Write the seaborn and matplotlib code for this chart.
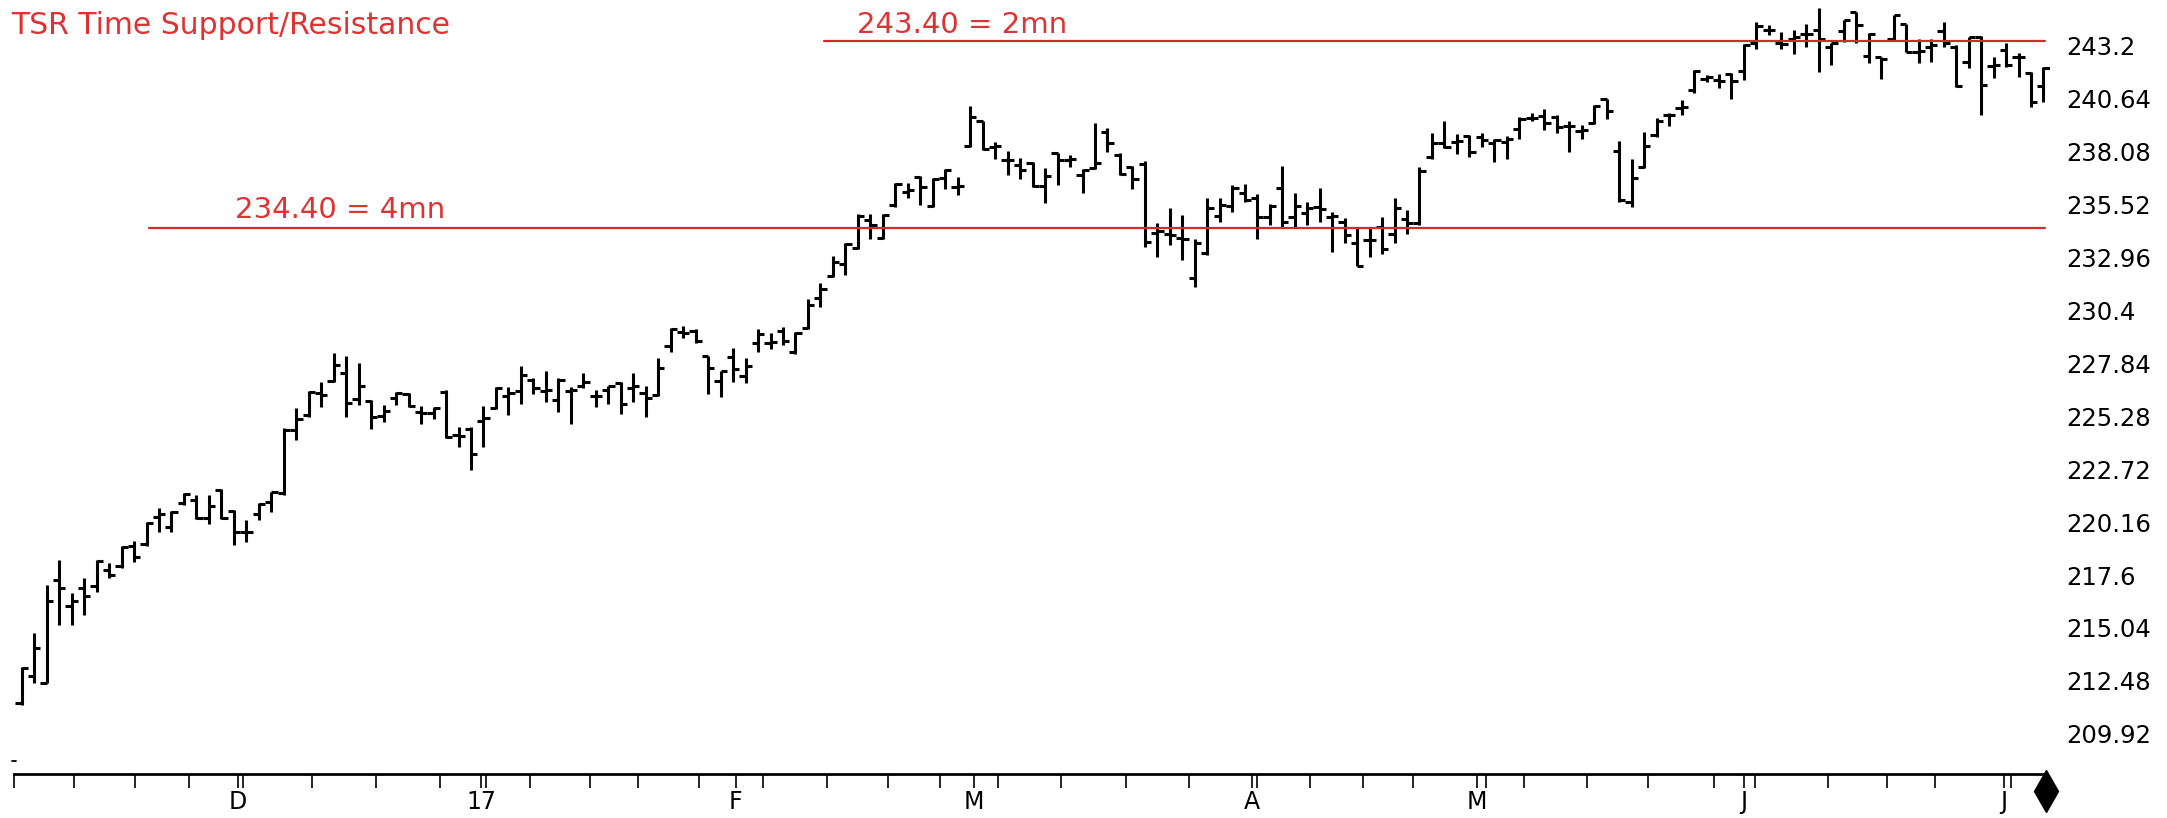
import matplotlib
matplotlib.use("Agg")
import matplotlib.pyplot as plt
import numpy as np
import pandas as pd
import seaborn as sns

# ---------------- data ----------------
opens = [211.40, 212.72, 212.40, 217.36, 216.10, 216.96, 217.07, 217.84, 218.04, 219.00,
         219.10, 220.42, 219.94, 221.07, 221.23, 220.34, 221.71, 220.70, 219.67, 220.55,
         221.15, 221.55, 224.61, 225.34, 226.39, 227.00, 227.35, 226.10, 226.03, 225.29,
         226.15, 226.36, 225.50, 225.42, 226.47, 224.37, 224.68, 225.05, 225.66, 226.27,
         226.50, 227.03, 226.52, 226.05, 226.50, 226.74, 226.26, 226.55, 226.90, 226.63,
         226.39, 226.31, 228.68, 229.37, 229.42, 228.19, 227.00, 228.16, 227.23, 228.80,
         228.84, 229.42, 228.40, 229.53, 230.98, 232.06, 232.64, 233.39, 234.76, 233.88,
         235.49, 236.13, 236.86, 235.44, 236.78, 236.38, 238.35, 239.53, 238.32, 237.67,
         237.43, 237.51, 236.41, 238.00, 237.67, 236.95, 237.27, 239.04, 237.90, 237.32,
         237.48, 234.13, 234.09, 233.88, 231.95, 233.19, 234.96, 235.45, 236.06, 235.82,
         234.93, 236.30, 234.93, 235.09, 235.38, 234.93, 234.69, 233.64, 233.80, 234.45,
         234.09, 234.80, 234.61, 237.80, 238.48, 238.56, 238.83, 238.77, 238.48, 238.56,
         239.15, 239.69, 239.80, 239.76, 239.31, 239.08, 239.44, 240.60, 238.12, 235.65,
         237.35, 238.88, 239.84, 240.16, 241.05, 241.57, 241.54, 241.83, 241.99, 243.34,
         243.95, 243.31, 243.50, 243.76, 243.95, 243.15, 243.92, 244.84, 242.70, 242.63,
         243.50, 244.24, 242.91, 243.15, 243.92, 243.15, 242.42, 243.63, 242.21, 243.00,
         242.63, 241.86, 241.24]

highs = [213.17, 214.78, 217.12, 218.33, 216.72, 217.44, 218.33, 218.17, 219.00, 219.26,
         220.18, 220.83, 220.71, 221.55, 221.47, 221.47, 221.75, 220.75, 220.26, 221.07,
         221.63, 224.70, 225.66, 226.52, 226.95, 228.32, 228.19, 227.84, 226.06, 225.82,
         226.47, 226.39, 225.77, 225.71, 226.55, 224.75, 224.75, 225.77, 226.70, 226.70,
         227.71, 227.11, 227.48, 227.11, 226.70, 227.35, 226.55, 226.74, 226.95, 227.35,
         226.74, 228.08, 229.53, 229.64, 229.48, 228.19, 227.48, 228.56, 228.08, 229.48,
         229.29, 229.61, 229.37, 230.95, 231.70, 233.02, 233.67, 235.05, 235.05, 235.05,
         236.57, 236.54, 236.89, 236.78, 237.21, 236.83, 240.28, 239.57, 238.56, 238.12,
         237.75, 237.59, 237.27, 238.03, 237.90, 237.22, 239.44, 239.20, 237.99, 237.38,
         237.64, 234.61, 235.33, 235.01, 233.84, 235.82, 235.82, 236.46, 236.51, 236.03,
         235.54, 237.38, 236.06, 235.66, 236.30, 235.17, 234.85, 234.45, 234.45, 234.93,
         235.82, 235.25, 237.35, 238.96, 239.57, 238.93, 238.88, 238.96, 238.67, 238.83,
         239.73, 239.93, 240.12, 239.84, 239.57, 239.36, 240.32, 240.62, 238.60, 237.70,
         239.04, 239.68, 239.92, 240.57, 242.00, 241.78, 241.83, 241.86, 243.30, 244.36,
         244.20, 243.87, 243.95, 244.24, 245.00, 243.34, 244.44, 244.84, 243.82, 242.63,
         244.68, 244.24, 243.50, 243.50, 244.36, 243.23, 243.63, 243.66, 242.67, 243.31,
         242.83, 241.94, 242.18]

lows = [211.32, 212.36, 212.36, 215.18, 215.18, 215.67, 216.80, 217.44, 217.92, 218.25,
        219.00, 219.70, 219.70, 220.99, 220.29, 220.07, 220.29, 219.05, 219.21, 220.26,
        220.67, 221.47, 224.13, 225.26, 225.74, 226.95, 225.26, 225.82, 224.65, 225.02,
        225.82, 225.74, 224.90, 225.13, 224.21, 223.81, 222.70, 223.81, 225.61, 225.36,
        225.88, 226.36, 225.98, 225.50, 224.90, 226.63, 225.74, 225.87, 225.39, 225.98,
        225.26, 226.26, 228.40, 229.05, 228.84, 226.35, 226.23, 226.95, 226.87, 228.40,
        228.51, 228.72, 228.29, 229.48, 230.57, 232.02, 232.10, 233.35, 233.83, 233.83,
        235.41, 235.81, 235.49, 235.41, 236.25, 235.97, 238.32, 238.15, 237.70, 236.95,
        236.74, 236.38, 235.61, 236.46, 237.35, 236.09, 237.22, 238.07, 236.95, 236.25,
        233.48, 233.00, 233.56, 232.84, 231.55, 233.08, 234.69, 235.17, 235.66, 233.84,
        234.53, 234.37, 234.37, 234.53, 234.69, 233.24, 233.67, 232.52, 233.00, 233.13,
        233.67, 234.09, 234.53, 237.70, 238.24, 237.96, 237.80, 238.32, 237.59, 237.70,
        238.67, 239.53, 239.10, 238.99, 238.07, 238.66, 239.41, 239.63, 235.65, 235.41,
        237.27, 238.80, 239.31, 239.84, 240.90, 241.46, 241.13, 240.60, 241.54, 243.02,
        243.71, 243.02, 242.80, 243.15, 241.94, 242.26, 243.39, 243.31, 242.34, 241.57,
        243.47, 242.91, 242.37, 242.42, 243.15, 241.21, 242.10, 239.84, 241.62, 242.18,
        241.67, 240.25, 240.49]

closes = [213.10, 214.06, 216.36, 216.99, 216.36, 216.59, 218.30, 217.60, 218.97, 218.49,
          220.13, 220.54, 220.67, 221.52, 220.34, 220.94, 220.34, 219.67, 219.70, 221.04,
          221.59, 224.61, 225.13, 226.47, 226.31, 227.76, 225.90, 226.74, 225.23, 225.55,
          226.39, 225.77, 225.45, 225.66, 224.26, 224.32, 223.47, 225.18, 226.62, 226.38,
          227.25, 226.63, 226.55, 227.05, 226.55, 226.95, 226.28, 226.74, 225.87, 226.74,
          226.15, 227.60, 229.48, 229.32, 228.90, 227.60, 227.48, 227.55, 227.71, 229.26,
          228.86, 228.93, 229.29, 230.66, 231.41, 232.75, 233.60, 234.96, 234.52, 235.00,
          236.50, 236.21, 236.38, 236.73, 237.18, 236.42, 239.77, 238.19, 238.34, 237.65,
          237.19, 236.41, 236.90, 237.67, 237.72, 237.20, 237.54, 238.50, 236.99, 236.74,
          233.72, 234.25, 234.04, 233.84, 233.64, 235.33, 235.50, 236.30, 235.74, 234.93,
          235.45, 234.69, 235.45, 235.33, 235.29, 234.95, 234.04, 232.55, 233.82, 233.35,
          235.33, 234.60, 237.16, 238.51, 238.32, 238.58, 238.07, 238.64, 238.64, 238.67,
          239.64, 239.71, 239.48, 239.28, 239.33, 239.10, 240.30, 240.05, 235.73, 236.78,
          238.34, 239.57, 239.86, 240.21, 241.98, 241.70, 241.50, 241.50, 243.23, 244.15,
          243.97, 243.28, 243.60, 243.78, 243.50, 243.31, 244.44, 244.20, 243.76, 242.54,
          244.68, 242.91, 242.93, 243.23, 243.34, 241.25, 243.60, 241.30, 242.26, 242.26,
          242.63, 240.49, 242.10]

level_values = [243.40, 234.40]
level_labels = ["243.40 = 2mn", "234.40 = 4mn"]
level_start_bar = [64.3, 10.2]

y_ticks = [243.2, 240.64, 238.08, 235.52, 232.96, 230.4, 227.84,
           225.28, 222.72, 220.16, 217.6, 215.04, 212.48, 209.92]
y_tick_labels = ["243.2", "240.64", "238.08", "235.52", "232.96", "230.4", "227.84",
                 "225.28", "222.72", "220.16", "217.6", "215.04", "212.48", "209.92"]

month_pos = [17.3, 36.8, 57.2, 76.3, 98.6, 116.6, 138.0, 158.8]
month_labels = ["D", "17", "F", "M", "A", "M", "J", "J"]
week_pos = [-0.6, 4.2, 9.1, 13.4, 17.7, 23.3, 28.4, 33.5, 37.2, 40.7, 45.5, 49.4,
            54.3, 59.4, 64.5, 69.4, 73.6, 78.2, 83.3, 88.5, 93.5, 99.0, 103.2,
            107.5, 111.5, 117.3, 120.4, 125.4, 130.3, 135.6, 138.9, 144.7, 149.5,
            153.3, 159.4]

title = "TSR Time Support/Resistance"

# ---------------- layout constants ----------------
W, H = 2167, 818
PX_PER_BAR = 12.48
X0_PX = 21.7
PX_PER_UNIT = 20.68
AX_RIGHT_PX = 2050
AXIS_PX = 774
RED = "#dd3333"
LINE_RED = "#d22b2b"

sns.set_theme(style="white")
plt.rcParams["font.family"] = ["DejaVu Sans"]

fig = plt.figure(figsize=(W / 100, H / 100), dpi=100)
fig.patch.set_facecolor("white")
ax = fig.add_axes([0, (H - AXIS_PX) / H, AX_RIGHT_PX / W, AXIS_PX / H])
ax.set_facecolor("white")

ymax = 243.2 + 45.6 / PX_PER_UNIT
ymin = ymax - AXIS_PX / PX_PER_UNIT
xmin = -X0_PX / PX_PER_BAR
xmax = xmin + AX_RIGHT_PX / PX_PER_BAR

def px_to_x(px):
    return xmin + px / PX_PER_BAR

def px_to_y(py):
    return ymax - py / PX_PER_UNIT

# ---------------- OHLC bars via seaborn lineplot ----------------
n = len(opens)
tick = 0.5
xs, ys, seg = [], [], []
for i in range(n):
    k = 3 * i
    xs += [i, i]; ys += [lows[i], highs[i]]; seg += [k, k]
    xs += [i - tick, i]; ys += [opens[i], opens[i]]; seg += [k + 1, k + 1]
    xs += [i, i + tick]; ys += [closes[i], closes[i]]; seg += [k + 2, k + 2]
segs = pd.DataFrame({"x": xs, "y": ys, "seg": seg})
sns.lineplot(data=segs, x="x", y="y", units="seg", estimator=None, sort=False,
             color="black", linewidth=2.2, solid_capstyle="butt", ax=ax,
             legend=False)

# ---------------- support / resistance levels ----------------
end_bar = px_to_x(2045)
for lvl, start in zip(level_values, level_start_bar):
    lv = pd.DataFrame({"x": [start, end_bar], "y": [lvl, lvl]})
    sns.lineplot(data=lv, x="x", y="y", color=LINE_RED, linewidth=1.6, ax=ax,
                 legend=False)

label_px = [(857, 25), (235, 210)]
for txt, (lx, ly) in zip(level_labels, label_px):
    ax.text(px_to_x(lx), px_to_y(ly), txt, color=RED, fontsize=21,
            ha="left", va="center")

fig.text(11 / W, 1 - 25 / H, title, color=RED, fontsize=21.5, ha="left", va="center")

# ---------------- axes styling ----------------
ax.set_xlim(xmin, xmax)
ax.set_ylim(ymin, ymax)
ax.set_xlabel("")
ax.set_ylabel("")
ax.grid(False)
for s in ["top", "left", "right"]:
    ax.spines[s].set_visible(False)
ax.spines["bottom"].set_color("black")
ax.spines["bottom"].set_linewidth(2.0)
ax.spines["bottom"].set_bounds(px_to_x(14), px_to_x(2045))

ax.yaxis.tick_right()
ax.set_yticks(y_ticks)
ax.set_yticklabels(y_tick_labels)
ax.tick_params(axis="y", which="both", left=False, right=False, labelright=True,
               length=0, pad=12, labelsize=17.5, labelcolor="black")

ax.set_xticks(month_pos)
ax.set_xticklabels(month_labels)
ax.set_xticks(week_pos, minor=True)
ax.tick_params(axis="x", which="both", bottom=True, direction="out", length=10,
               width=1.2, color="black", pad=1.5, labelsize=17, labelcolor="black")

# end-of-data marker and small dash at the left
ax.plot([px_to_x(2046)], [px_to_y(791)], marker="d", markersize=21, color="black",
        clip_on=False, linestyle="none")
ax.plot([px_to_x(12), px_to_x(16)], [px_to_y(761), px_to_y(761)], color="black",
        linewidth=1.3, clip_on=False)

fig.savefig("out.png", dpi=100, facecolor="white")
